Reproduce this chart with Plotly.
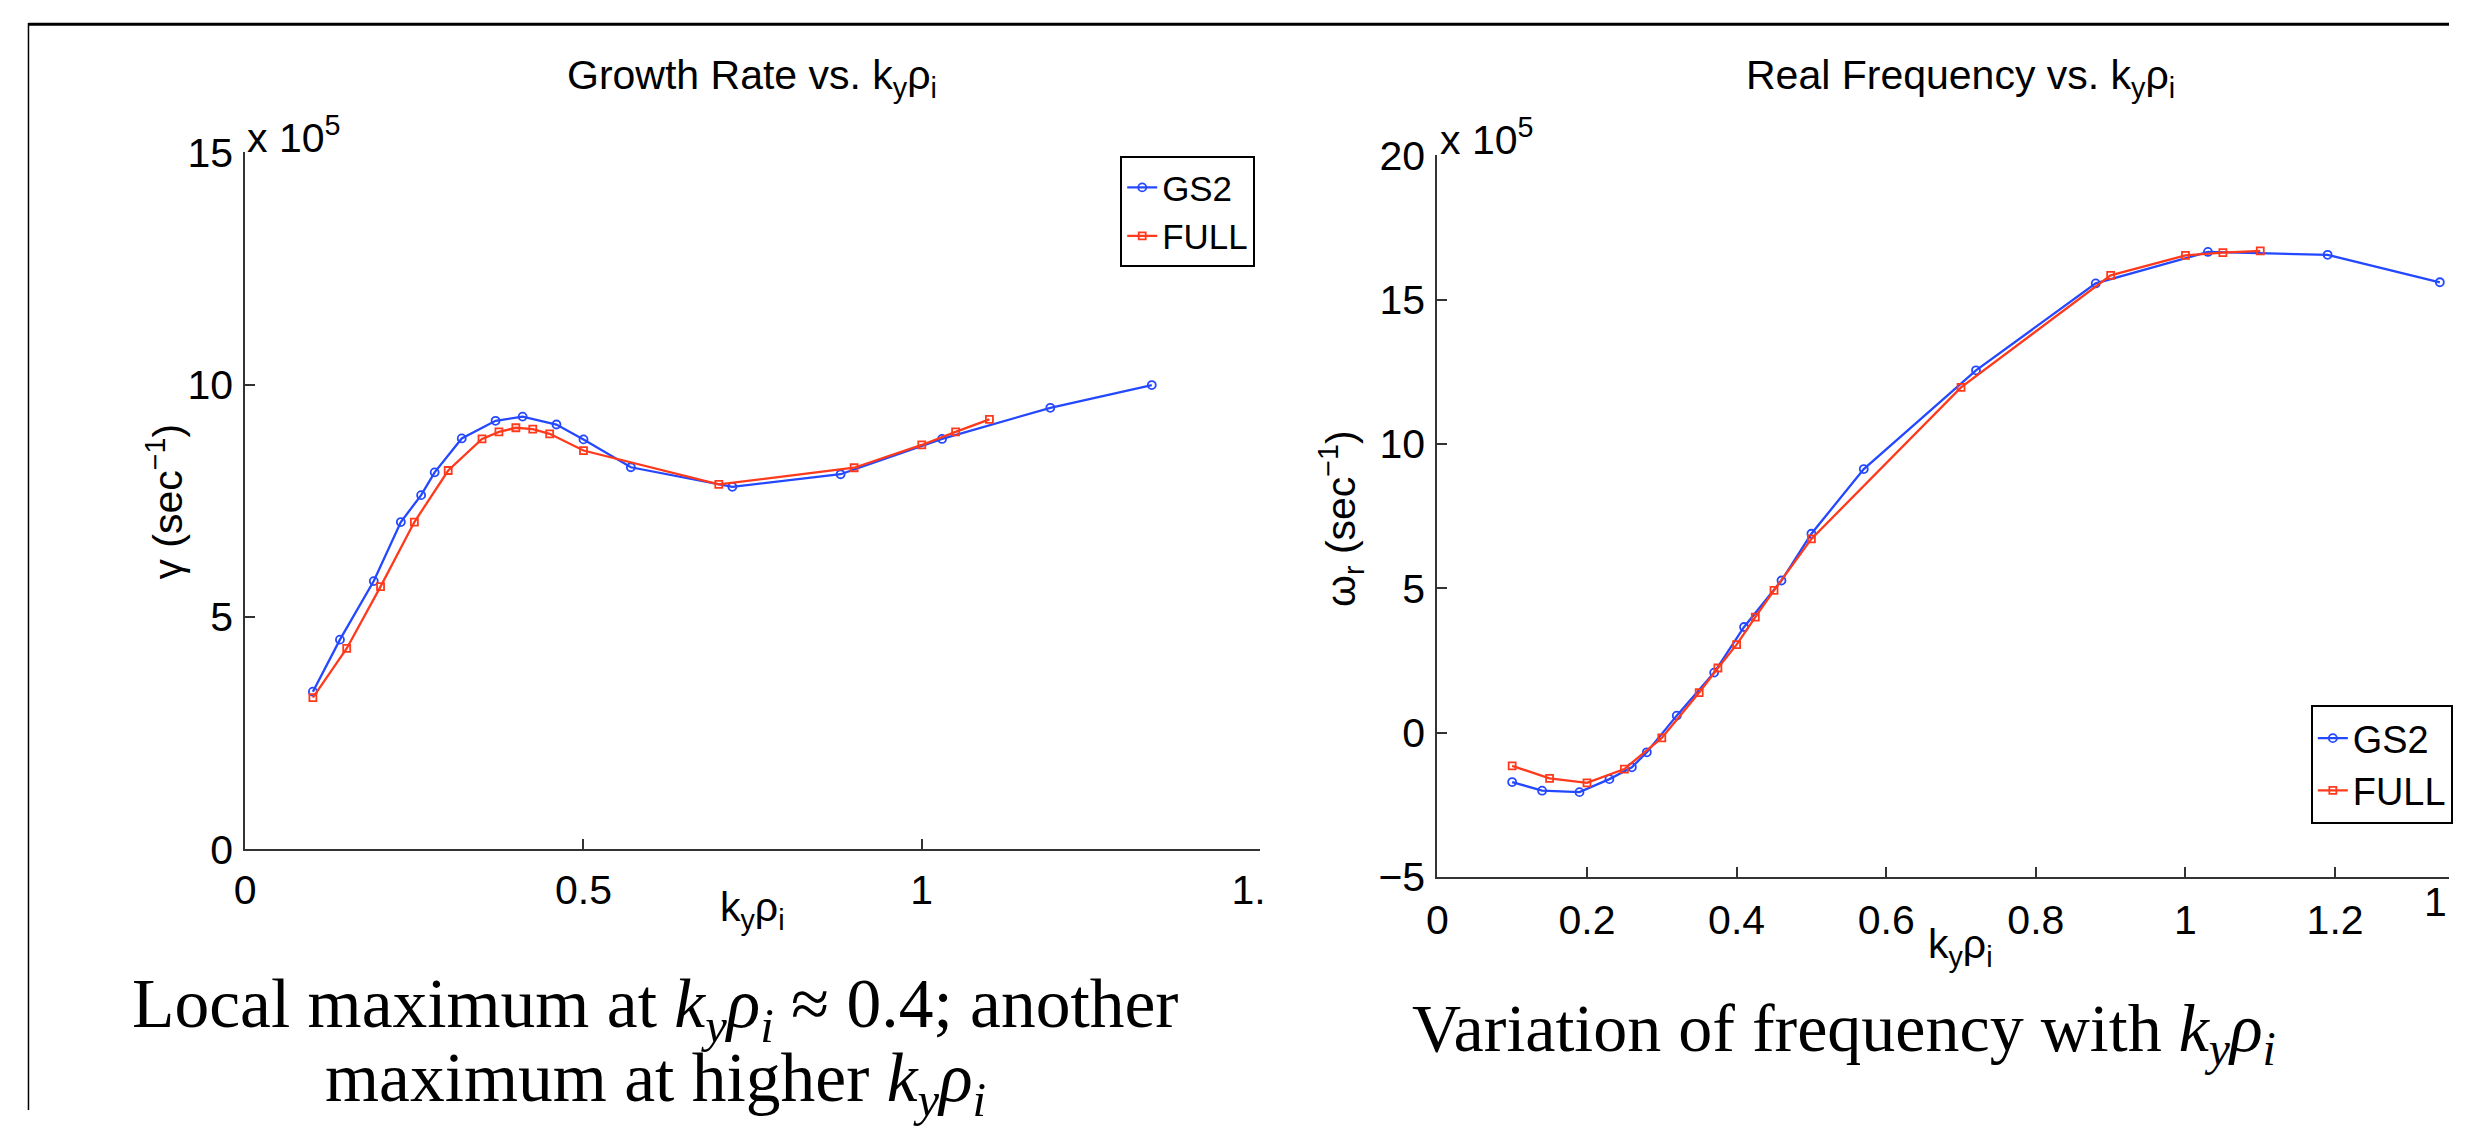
import plotly.graph_objects as go

# ---------------- data (values in units of 10^5 sec^-1) ----------------
k_gs2 = [0.10, 0.14, 0.19, 0.23, 0.26, 0.28, 0.32, 0.37, 0.41, 0.46, 0.50, 0.57, 0.72, 0.88, 1.03, 1.19, 1.34]
gamma_gs2 = [3.39, 4.51, 5.77, 7.04, 7.62, 8.11, 8.84, 9.22, 9.31, 9.14, 8.82, 8.22, 7.80, 8.07, 8.83, 9.50, 9.99]
omega_gs2 = [-1.71, -2.01, -2.06, -1.61, -1.20, -0.68, 0.59, 2.08, 3.66, 5.27, 6.89, 9.13, 12.55, 15.56, 16.65, 16.55, 15.60]

k_full = [0.10, 0.15, 0.20, 0.25, 0.30, 0.35, 0.375, 0.40, 0.425, 0.45, 0.50, 0.70, 0.90, 1.00, 1.05, 1.10]
gamma_full = [3.26, 4.32, 5.65, 7.04, 8.15, 8.83, 8.98, 9.07, 9.04, 8.94, 8.58, 7.85, 8.21, 8.70, 8.98, 9.25]
omega_full = [-1.15, -1.58, -1.74, -1.26, -0.18, 1.39, 2.24, 3.05, 4.00, 4.93, 6.71, 11.96, 15.84, 16.53, 16.63, 16.69]

series_names = ["GS2", "FULL"]
left_xticks = [0, 0.5, 1, 1.5]
right_xticks = [0, 0.2, 0.4, 0.6, 0.8, 1.0, 1.2]
left_yticks = [0, 5, 10, 15]
right_yticks = [-5, 0, 5, 10, 15, 20]

W, H = 2478, 1133
BLUE = "#2448ff"
RED = "#ff3a1c"
SANS = "Liberation Sans, Arial, Helvetica, sans-serif"
SERIF = "Liberation Serif, Times New Roman, serif"

# the photographed page comes out slightly shrunk and offset; positions below are
# given in the target picture's pixels and mapped back to paper coordinates
SX, OX = 0.985, 9.5
SY, OY = 0.965, 19.0
FS = 1 / 0.975


def px(xr):
    return ((xr - OX) / SX) / W


def py(yr):
    return 1 - ((yr - OY) / SY) / H


def f(size):
    return round(size * FS, 1)


fig = go.Figure()

line_w = 2.3
gs2_marker = dict(symbol="circle-open", size=8, color=BLUE, line=dict(width=1.8, color=BLUE))
full_marker = dict(symbol="square-open", size=7, color=RED, line=dict(width=1.8, color=RED))

fig.add_trace(go.Scatter(x=k_gs2, y=gamma_gs2, mode="lines+markers", name=series_names[0],
                         line=dict(color=BLUE, width=line_w), marker=gs2_marker,
                         xaxis="x", yaxis="y", legend="legend"))
fig.add_trace(go.Scatter(x=k_full, y=gamma_full, mode="lines+markers", name=series_names[1],
                         line=dict(color=RED, width=line_w), marker=full_marker,
                         xaxis="x", yaxis="y", legend="legend"))
fig.add_trace(go.Scatter(x=k_gs2, y=omega_gs2, mode="lines+markers", name=series_names[0],
                         line=dict(color=BLUE, width=line_w), marker=gs2_marker,
                         xaxis="x2", yaxis="y2", legend="legend2"))
fig.add_trace(go.Scatter(x=k_full, y=omega_full, mode="lines+markers", name=series_names[1],
                         line=dict(color=RED, width=line_w), marker=full_marker,
                         xaxis="x2", yaxis="y2", legend="legend2"))

axis_common = dict(showline=True, linecolor="#333333", linewidth=2, mirror=False,
                   ticks="inside", ticklen=10, tickwidth=1.5, tickcolor="#333333",
                   showgrid=False, zeroline=False,
                   tickfont=dict(family=SANS, size=f(40), color="black"))

# plot areas in target pixels: left 244..1260 x 149..850 ; right starts at 1437.5, 152..878
right_end = SX * W + OX
right_xmax = (right_end - 1437.5) / 749.0

fig.update_layout(
    width=W, height=H,
    margin=dict(l=0, r=0, t=0, b=0),
    paper_bgcolor="white", plot_bgcolor="white",
    font=dict(family=SANS, size=f(40), color="black"),
    xaxis=dict(domain=[px(244), px(1260)], range=[0, 1.5], tickvals=left_xticks,
               anchor="y", ticklabelstandoff=4, **axis_common),
    yaxis=dict(domain=[py(850), py(149)], range=[0, 15], tickvals=left_yticks,
               anchor="x", ticklabelstandoff=2, **axis_common),
    xaxis2=dict(domain=[px(1437.5), 1.0], range=[0, right_xmax], tickvals=right_xticks,
                anchor="y2", ticklabelstandoff=6, **axis_common),
    yaxis2=dict(domain=[py(878), py(152)], range=[-5, 20], tickvals=right_yticks,
                anchor="x2", ticklabelstandoff=2, **axis_common),
    legend=dict(x=px(1120), y=py(153), xanchor="left", yanchor="top",
                bgcolor="white", bordercolor="black", borderwidth=2,
                font=dict(family=SANS, size=f(34), color="black"),
                itemwidth=30, tracegroupgap=0),
    legend2=dict(x=px(2312), y=py(705), xanchor="left", yanchor="top",
                 bgcolor="white", bordercolor="black", borderwidth=2,
                 font=dict(family=SANS, size=f(37), color="black"),
                 itemwidth=30, tracegroupgap=0),
    showlegend=True,
)

kyrho = "k<sub>y</sub>ρ<sub>i</sub>"
kyrho_math = "<i>k</i><sub><i>y</i></sub><i>ρ</i><sub><i>i</i></sub>"

annotations = [
    # titles
    dict(text="Growth Rate vs. " + kyrho, x=px(751), y=py(74), xanchor="center", yanchor="middle",
         font=dict(family=SANS, size=f(40))),
    dict(text="Real Frequency vs. " + kyrho, x=px(1961), y=py(74), xanchor="center", yanchor="middle",
         font=dict(family=SANS, size=f(40))),
    # multipliers
    dict(text="x 10<sup>5</sup>", x=px(244), y=py(132), xanchor="left", yanchor="middle",
         font=dict(family=SANS, size=f(40))),
    dict(text="x 10<sup>5</sup>", x=px(1438), y=py(134), xanchor="left", yanchor="middle",
         font=dict(family=SANS, size=f(40))),
    # x-axis titles
    dict(text=kyrho, x=px(752), y=py(911), xanchor="center", yanchor="middle",
         font=dict(family=SANS, size=f(40))),
    dict(text=kyrho, x=px(1961), y=py(948), xanchor="center", yanchor="middle",
         font=dict(family=SANS, size=f(40))),
    # y-axis titles
    dict(text="γ (sec<sup>−1</sup>)", x=px(164), y=py(500), xanchor="center", yanchor="middle",
         textangle=-90, font=dict(family=SANS, size=f(40))),
    dict(text="ω<sub>r</sub> (sec<sup>−1</sup>)", x=px(1341), y=py(517), xanchor="center", yanchor="middle",
         textangle=-90, font=dict(family=SANS, size=f(40))),
    # first digit of the 1.4 tick label, cut by the right edge of the slide
    dict(text="1", x=1.0, y=py(903), xanchor="right", yanchor="middle",
         font=dict(family=SANS, size=f(40))),
    # captions
    dict(text="Local maximum at " + kyrho_math + " ≈ 0.4; another",
         x=px(655), y=py(1011), xanchor="center", yanchor="middle", align="center",
         font=dict(family=SERIF, size=69.5)),
    dict(text="maximum at higher " + kyrho_math,
         x=px(655), y=py(1085), xanchor="center", yanchor="middle", align="center",
         font=dict(family=SERIF, size=69.5)),
    dict(text="Variation of frequency with " + kyrho_math,
         x=px(1410), y=py(1034), xanchor="left", yanchor="middle", align="left",
         font=dict(family=SERIF, size=68)),
]
for a in annotations:
    a.setdefault("xref", "paper")
    a.setdefault("yref", "paper")
    a["showarrow"] = False
fig.update_layout(annotations=annotations)

shapes = [
    # mask that crops the left panel's last tick label (as in the source slide)
    dict(type="rect", xref="paper", yref="paper", x0=px(1264), x1=px(1320), y0=py(912), y1=py(856),
         fillcolor="white", line=dict(width=0), layer="above"),
    # slide frame
    dict(type="line", xref="paper", yref="paper", x0=px(27), x1=1.0, y0=0.9988, y1=0.9988,
         line=dict(color="black", width=3), layer="above"),
    dict(type="line", xref="paper", yref="paper", x0=px(27), x1=px(27), y0=0, y1=1,
         line=dict(color="black", width=1.5), layer="above"),
]
fig.update_layout(shapes=shapes)

fig.write_html("out.html")
